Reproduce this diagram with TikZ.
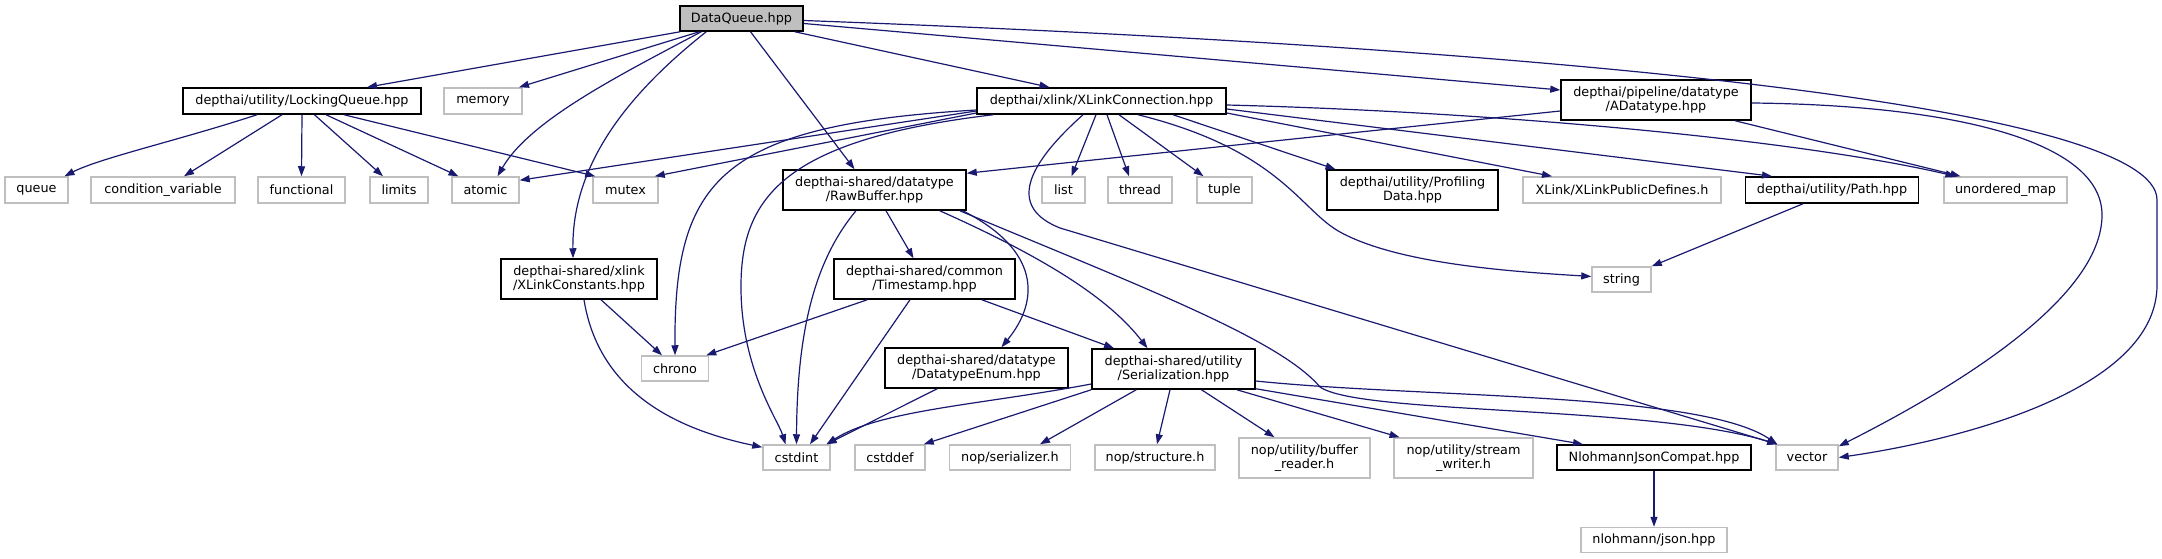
\documentclass[tikz,border=0pt]{standalone}
\usepackage{fontspec}
\setmainfont{DejaVu Sans}
\usetikzlibrary{arrows.meta}
\definecolor{sysgray}{HTML}{BFBFBF}
\definecolor{edgeblue}{HTML}{191970}
\newcommand{\nodefnt}{\fontsize{12.8}{14.5}\selectfont}
\tikzset{
  base/.style={draw, line width=1.5pt, inner sep=0pt, align=center, font=\nodefnt},
  sys/.style={base, draw=sysgray},
  proj/.style={base, draw=black},
  rootn/.style={base, draw=black, fill=sysgray},
  dep/.style={draw=edgeblue, line width=1.2pt, -{Triangle[length=10pt,width=7pt]}},
}
\begin{document}
\begin{tikzpicture}[x=1pt,y=-1pt]
\useasboundingbox (0,0) rectangle (2162,559);
% nodes
\node[rootn, minimum width=123pt, minimum height=25pt] (DQ) at (741.5,18.5) {DataQueue.hpp};
\node[proj, minimum width=238pt, minimum height=26pt] (LQ) at (302,101) {depthai/utility/LockingQueue.hpp};
\node[sys, minimum width=78pt, minimum height=26pt] (mem) at (483,101) {memory};
\node[proj, minimum width=249pt, minimum height=26pt] (XC) at (1101.5,101) {depthai/xlink/XLinkConnection.hpp};
\node[proj, minimum width=190pt, minimum height=40pt] (AD) at (1656,100) {depthai/pipeline/datatype\\/ADatatype.hpp};
\node[sys, minimum width=63pt, minimum height=26pt] (queue) at (36.5,190) {queue};
\node[sys, minimum width=144pt, minimum height=26pt] (condvar) at (163,190) {condition\_variable};
\node[sys, minimum width=87pt, minimum height=26pt] (functional) at (301.5,190) {functional};
\node[sys, minimum width=58pt, minimum height=26pt] (limits) at (399,190) {limits};
\node[sys, minimum width=67pt, minimum height=26pt] (atomic) at (485.5,190) {atomic};
\node[sys, minimum width=65pt, minimum height=26pt] (mutex) at (625.5,190) {mutex};
\node[proj, minimum width=183pt, minimum height=40pt] (RB) at (874.5,190) {depthai-shared/datatype\\/RawBuffer.hpp};
\node[sys, minimum width=43pt, minimum height=26pt] (list) at (1063.5,190) {list};
\node[sys, minimum width=64pt, minimum height=26pt] (thread) at (1140,190) {thread};
\node[sys, minimum width=55pt, minimum height=26pt] (tuple) at (1224.5,190) {tuple};
\node[proj, minimum width=171pt, minimum height=40pt] (PD) at (1412.5,190) {depthai/utility/Profiling\\Data.hpp};
\node[sys, minimum width=198pt, minimum height=26pt] (XLPD) at (1622,190) {XLink/XLinkPublicDefines.h};
\node[proj, minimum width=173pt, minimum height=26pt] (Path) at (1832,190) {depthai/utility/Path.hpp};
\node[sys, minimum width=123pt, minimum height=26pt] (UM) at (2005.5,190) {unordered\_map};
\node[proj, minimum width=156pt, minimum height=40pt] (XK) at (579,279) {depthai-shared/xlink\\/XLinkConstants.hpp};
\node[proj, minimum width=181pt, minimum height=40pt] (TS) at (924.5,279) {depthai-shared/common\\/Timestamp.hpp};
\node[sys, minimum width=59pt, minimum height=25pt] (string) at (1621.5,279.5) {string};
\node[sys, minimum width=67pt, minimum height=25pt] (chrono) at (675,368.5) {chrono};
\node[proj, minimum width=183pt, minimum height=40pt] (DE) at (976.5,368) {depthai-shared/datatype\\/DatatypeEnum.hpp};
\node[proj, minimum width=163pt, minimum height=40pt] (SE) at (1173.5,369) {depthai-shared/utility\\/Serialization.hpp};
\node[sys, minimum width=67pt, minimum height=25pt] (cstdint) at (796.5,457.5) {cstdint};
\node[sys, minimum width=70pt, minimum height=25pt] (cstddef) at (890,457.5) {cstddef};
\node[sys, minimum width=121pt, minimum height=25pt] (nopser) at (1010,457.5) {nop/serializer.h};
\node[sys, minimum width=120pt, minimum height=25pt] (nopstruct) at (1155,457.5) {nop/structure.h};
\node[sys, minimum width=131pt, minimum height=40pt] (bufreader) at (1304.5,458) {nop/utility/buffer\\\_reader.h};
\node[sys, minimum width=139pt, minimum height=40pt] (streamwriter) at (1463.5,458) {nop/utility/stream\\\_writer.h};
\node[proj, minimum width=194pt, minimum height=25pt] (NJC) at (1654,457.5) {NlohmannJsonCompat.hpp};
\node[sys, minimum width=62pt, minimum height=25pt] (vector) at (1807,457.5) {vector};
\node[sys, minimum width=146pt, minimum height=25pt] (json) at (1654,540) {nlohmann/json.hpp};
% edges from DataQueue
\draw[dep] ([xshift=1pt]DQ.south west) -- ([xshift=65pt]LQ.north);
\draw[dep] ([xshift=20pt]DQ.south west) -- ([xshift=36pt]mem.north);
\draw[dep] ([xshift=22pt]DQ.south west) .. controls (620,75) and (530,120) .. ([xshift=12pt]atomic.north);
\draw[dep] ([xshift=27pt]DQ.south west) .. controls (620,100) and (572,170) .. ([xshift=-6pt]XK.north);
\draw[dep] ([xshift=9pt]DQ.south) -- ([xshift=-20pt]RB.north);
\draw[dep] ([xshift=-9pt]DQ.south east) -- ([xshift=-52pt]XC.north);
\draw[dep] ([yshift=-5pt]DQ.east) -- ([yshift=10pt]AD.west);
\draw[dep] ([yshift=-2pt]DQ.east) .. controls (1600,50) and (2157,110) .. (2157,200) -- (2157,285) .. controls (2157,390) and (1960,440) .. (vector.east);
% LockingQueue
\draw[dep] ([xshift=-45pt]LQ.south) .. controls (180,140) and (100,158) .. ([xshift=28pt]queue.north);
\draw[dep] ([xshift=-20pt]LQ.south) -- ([xshift=21pt]condvar.north);
\draw[dep] (LQ.south) -- (functional.north);
\draw[dep] ([xshift=12.5pt]LQ.south) -- ([xshift=-16pt]limits.north);
\draw[dep] ([xshift=24pt]LQ.south) -- ([xshift=-27pt]atomic.north);
\draw[dep] ([xshift=42pt]LQ.south) -- ([xshift=3pt]mutex.north west);
% XLinkConnection
\draw[dep] ([yshift=-10pt]XC.west) -- ([yshift=-4pt]atomic.north east);
\draw[dep] ([yshift=-12pt]XC.west) -- ([xshift=-4pt]mutex.north east);
\draw[dep] ([yshift=-9pt]XC.west) .. controls (720,125) and (674,180) .. (chrono.north);
\draw[dep] ([xshift=17pt]XC.south west) .. controls (780,140) and (740,200) .. (741,290) .. controls (742,370) and (778,420) .. ([xshift=-11pt]cstdint.north);
\draw[dep] ([xshift=-5.5pt]XC.south) -- ([xshift=8pt]list.north);
\draw[dep] ([xshift=5.5pt]XC.south) -- ([xshift=-11pt]thread.north);
\draw[dep] ([xshift=17.5pt]XC.south) -- ([xshift=-21pt]tuple.north);
\draw[dep] ([xshift=71.5pt]XC.south) -- ([xshift=-77pt]PD.north);
\draw[dep] ([yshift=-12pt]XC.east) -- ([xshift=-70pt]XLPD.north);
\draw[dep] ([yshift=-8pt]XC.east) -- ([xshift=-60pt]Path.north);
\draw[dep] ([yshift=-4pt]XC.east) .. controls (1500,112) and (1800,140) .. ([xshift=-50pt]UM.north);
\draw[dep] ([xshift=36.5pt]XC.south) .. controls (1280,150) and (1300,210) .. (1340,232) .. controls (1400,265) and (1520,272) .. ([yshift=3pt]string.west);
\draw[dep] ([xshift=-18.5pt]XC.south) .. controls (1010,180) and (1020,212) .. (1060,228) -- ([xshift=2pt]vector.north west);
% ADatatype
\draw[dep] ([yshift=-11pt]AD.west) -- ([yshift=-4pt]RB.north east);
\draw[dep] ([xshift=79pt]AD.south) -- ([xshift=-45pt]UM.north);
\draw[dep] ([yshift=-3pt]AD.east) .. controls (1950,105) and (2102,140) .. (2102,215) .. controls (2102,300) and (1950,390) .. ([yshift=-2pt]vector.north east);
% Path
\draw[dep] ([xshift=-29pt]Path.south) -- (string.north east);
% RawBuffer
\draw[dep] ([xshift=11.5pt]RB.south) -- ([xshift=-11pt]TS.north);
\draw[dep] ([xshift=-18.5pt]RB.south) .. controls (815,260) and (797,330) .. (cstdint.north);
\draw[dep] ([xshift=-4pt]RB.south east) .. controls (1040,250) and (1040,300) .. ([xshift=25pt]DE.north);
\draw[dep] ([xshift=-27pt]RB.south east) .. controls (1050,260) and (1110,300) .. ([xshift=-26pt]SE.north);
\draw[dep] ([xshift=-7pt]RB.south east) .. controls (1150,290) and (1280,340) .. (1320,387) .. controls (1360,415) and (1650,405) .. ([xshift=2pt]vector.north west);
% Timestamp
\draw[dep] ([xshift=34pt]TS.south west) -- ([xshift=-3pt]chrono.north east);
\draw[dep] ([xshift=-14.5pt]TS.south) -- ([xshift=13.5pt]cstdint.north);
\draw[dep] ([xshift=-34pt]TS.south east) -- ([xshift=-59.5pt]SE.north);
% XLinkConstants
\draw[dep] ([xshift=22pt]XK.south) -- ([xshift=-13pt]chrono.north);
\draw[dep] ([xshift=5pt]XK.south) .. controls (600,400) and (690,432) .. ([yshift=-3pt]cstdint.north west);
% DatatypeEnum
\draw[dep] ([xshift=53pt]DE.south west) -- ([xshift=30pt]cstdint.north);
% Serialization
\draw[dep] ([yshift=-15pt]SE.west) .. controls (980,405) and (880,410) .. ([xshift=30pt]cstdint.north);
\draw[dep] (SE.south west) -- ([xshift=-2pt]cstddef.north east);
\draw[dep] ([xshift=45pt]SE.south west) -- ([xshift=30pt]nopser.north);
\draw[dep] ([xshift=-3.5pt]SE.south) -- ([xshift=2pt]nopstruct.north);
\draw[dep] ([xshift=28pt]SE.south) -- ([xshift=-30pt]bufreader.north);
\draw[dep] ([xshift=-19pt]SE.south east) -- ([xshift=-64pt]streamwriter.north);
\draw[dep] ([yshift=1pt]SE.south east) -- ([xshift=-71pt]NJC.north);
\draw[dep] ([yshift=-12pt]SE.east) .. controls (1420,398) and (1700,392) .. ([xshift=2pt]vector.north west);
% NlohmannJsonCompat
\draw[dep] (NJC.south) -- (json.north);
\end{tikzpicture}
\end{document}
